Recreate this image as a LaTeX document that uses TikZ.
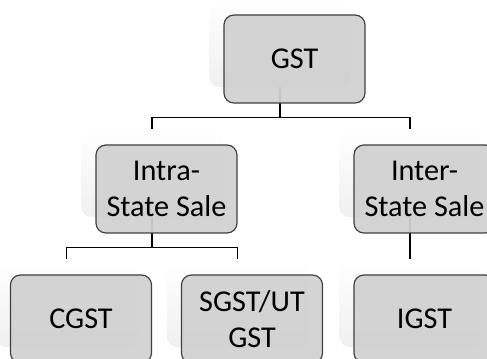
\documentclass[tikz,border=0pt]{standalone}
\usepackage{fontspec}
\setmainfont{Carlito}
\tikzstyle{backbox}=[rectangle, rounded corners=0.25cm, minimum width=3.525cm, minimum height=2.2cm, inner sep=0pt, top color=white, bottom color=black!6]
\tikzstyle{taxbox}=[rectangle, rounded corners=0.25cm, draw=black!75, line width=0.85pt, fill=black!18, fill opacity=0.94, text opacity=1, minimum width=3.525cm, minimum height=2.2cm, inner sep=0pt, align=center, font=\fontsize{21.5}{26}\selectfont]
\tikzstyle{link}=[draw, line width=0.9pt]
\newcommand{\backbox}{\node[backbox]}
\newcommand{\taxbox}{\node[taxbox]}

\begin{document}
\begin{tikzpicture}[x=0.025cm, y=-0.025cm]
            \useasboundingbox (0,0) rectangle (487,358);
            \clip (0,0) rectangle (487,358);
            % back panels
            \backbox (gstb) at (280,43){};
            \backbox (intrab) at (152,173){};
            \backbox (interb) at (410,173){};
            \backbox (cgstb) at (66.5,303){};
            \backbox (sgstb) at (237.5,303){};
            \backbox (igstb) at (410,303){};
            % links
            \path[link] (gstb.south) -- ++(0,30) -| (intrab.north);
            \path[link] (gstb.south) -- ++(0,30) -| (interb.north);
            \path[link] (intrab.south) -- ++(0,30) -| (cgstb.north);
            \path[link] (intrab.south) -- ++(0,30) -| (sgstb.north);
            \path[link] (interb.south) -- (igstb.north);
            % boxes
            \taxbox (gst) at (294.5,59){GST};
            \taxbox (intra) at (166.5,189){Intra-\\State Sale};
            \taxbox (inter) at (424.5,189){Inter-\\State Sale};
            \taxbox (cgst) at (81,319){CGST};
            \taxbox (sgst) at (252,319){SGST/UT\\GST};
            \taxbox (igst) at (424.5,319){IGST};
\end{tikzpicture}
\end{document}
